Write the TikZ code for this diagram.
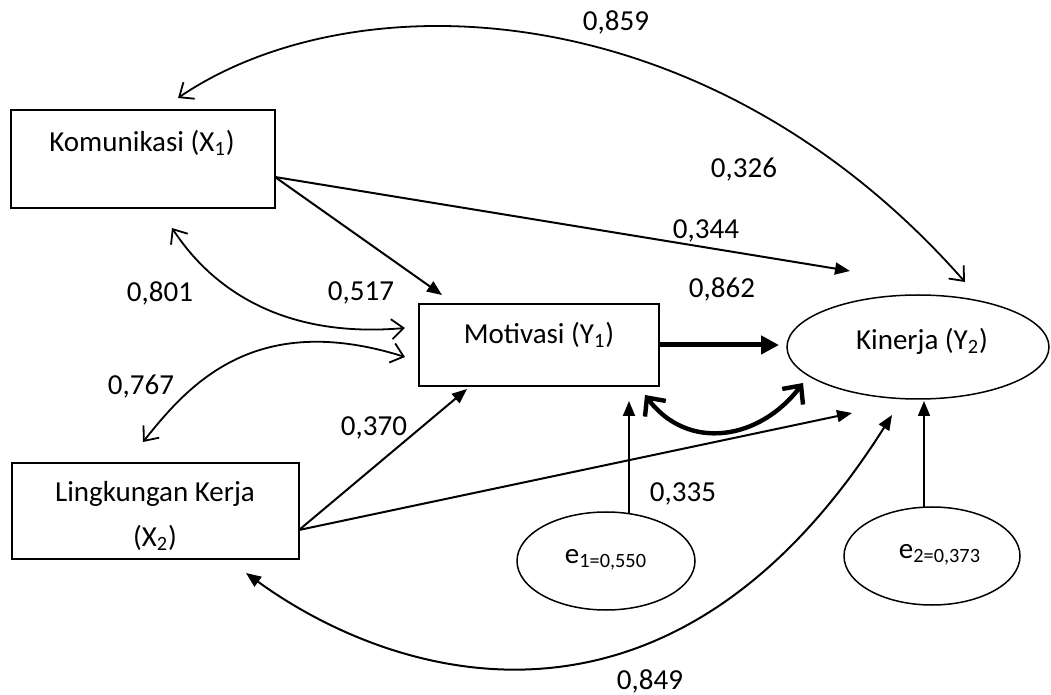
\documentclass[tikz,border=0pt]{standalone}
\usepackage{fontspec}
\setmainfont{Carlito}
\usetikzlibrary{arrows.meta,shapes.geometric}
\begin{document}
\begin{tikzpicture}[x=0.5pt,y=-0.5pt,
  box/.style={draw,line width=0.75pt,rectangle,inner sep=0pt},
  oval/.style={draw,line width=0.75pt,ellipse,inner sep=0pt},
  txt/.style={inner sep=0pt,font=\fontsize{14.5}{17}\selectfont},
  arr/.style={line width=1pt,-{Triangle[length=7.5pt,width=6pt]}},
  dblfill/.style={line width=1pt,{Triangle[length=7.5pt,width=6pt]}-{Triangle[length=7.5pt,width=6pt]}},
  dblopen/.style={line width=0.9pt,{Straight Barb[length=6pt,width=10pt]}-{Straight Barb[length=6pt,width=10pt]}},
  thickarr/.style={line width=2.5pt,-{Triangle[length=9pt,width=9pt]}},
  thickdbl/.style={line width=2.2pt,{Straight Barb[length=7pt,width=13pt]}-{Straight Barb[length=7pt,width=13pt]}}
]
\useasboundingbox (0,0) rectangle (1051,695);

% boxes and ovals
\node[box,minimum width=132pt,minimum height=49pt] (kom) at (143,159) {};
\node[box,minimum width=143.5pt,minimum height=48pt] (lin) at (155.5,511) {};
\node[box,minimum width=120pt,minimum height=41pt] (mot) at (539,345) {};
\node[oval,minimum width=131pt,minimum height=52pt] (kin) at (918,347) {};
\node[oval,minimum width=89pt,minimum height=49pt] (e1) at (606,561) {};
\node[oval,minimum width=88pt,minimum height=49pt] (e2) at (932,556) {};

% box texts
\node[txt] (komt) at (142,143) {Komunikasi (X\textsubscript{1})};
\node[txt] (lint1) at (155,494) {Lingkungan Kerja};
\node[txt] (lint2) at (155,538) {(X\textsubscript{2})};
\node[txt] (mott) at (539,335) {Motivasi (Y\textsubscript{1})};
\node[txt] (kint) at (922,341) {Kinerja (Y\textsubscript{2})};
\node[txt] (e1t) at (606,560) {e\textsubscript{1=0,550}};
\node[txt] (e2t) at (940,555) {e\textsubscript{2=0,373}};

% connector end points
\coordinate (kout) at (275,177);
\coordinate (lout) at (299,530);
\coordinate (motA) at (442,295);
\coordinate (kinA) at (850,271);
\coordinate (motB) at (467,389);
\coordinate (kinB) at (852,413);
\coordinate (kinC) at (779,345);
\coordinate (e1top) at (629,514);
\coordinate (motE) at (629,401);
\coordinate (e2top) at (924,507);
\coordinate (kinE) at (924,401);
\coordinate (kinF) at (965,282);
\coordinate (komF) at (178,98);
\coordinate (kinG) at (892,415);
\coordinate (linG) at (246,573);
\coordinate (komH) at (172,228);
\coordinate (motH) at (405,328);
\coordinate (linI) at (143,442);
\coordinate (motI) at (405,357);
\coordinate (motJ) at (645,395);
\coordinate (kinJ) at (803,383);

% straight paths
\draw[arr] (kout) -- (motA);
\draw[arr] (kout) -- (kinA);
\draw[arr] (lout) -- (motB);
\draw[arr] (lout) -- (kinB);
\draw[thickarr] (mot.east) -- (kinC);
\draw[arr] (e1top) -- (motE);
\draw[arr] (e2top) -- (kinE);

% curved correlations
\draw[dblopen] (kinF) .. controls (706,-12) and (353,-21) .. (komF);
\draw[dblfill] (kinG) .. controls (669,768) and (392,679) .. (linG);
\draw[dblopen] (komH) .. controls (216,295) and (290,338) .. (motH);
\draw[dblopen] (linI) .. controls (189,384) and (255,310) .. (motI);
\draw[thickdbl] (motJ) .. controls (688,452) and (760,440) .. (kinJ);

% numeric labels
\node[txt] (l859) at (616,22) {0,859};
\node[txt] (l326) at (744,170) {0,326};
\node[txt] (l344) at (706,231) {0,344};
\node[txt] (l862) at (722,289) {0,862};
\node[txt] (l801) at (160,293) {0,801};
\node[txt] (l517) at (361,293) {0,517};
\node[txt] (l767) at (141,387) {0,767};
\node[txt] (l370) at (374,428) {0,370};
\node[txt] (l335) at (683,494) {0,335};
\node[txt] (l849) at (650,681) {0,849};
\end{tikzpicture}
\end{document}
